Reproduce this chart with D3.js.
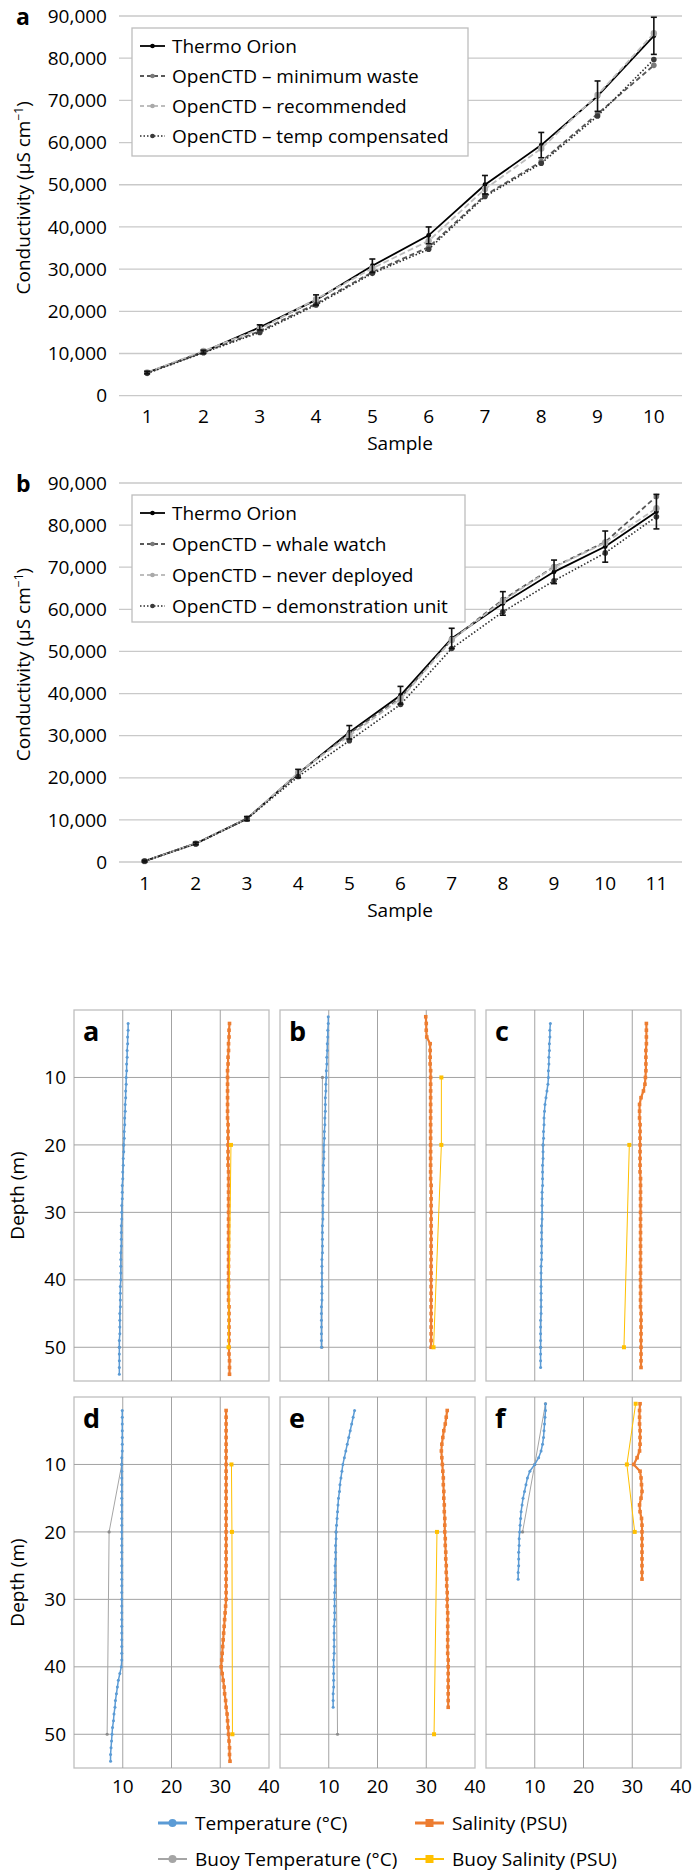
<!DOCTYPE html>
<html>
<head>
<meta charset="utf-8">
<script src="https://cdn.jsdelivr.net/npm/d3@7"></script>
<style>
  body { margin: 0; background: #fff; }
  svg { display: block; font-family: "Open Sans", sans-serif; }
</style>
</head>
<body>
<svg width="699" height="1871"></svg>
<script>
// ---- conductivity charts ----
const samplesA = ["1", "2", "3", "4", "5", "6", "7", "8", "9", "10"];
const thermoA = [5500, 10400, 16200, 22700, 30800, 38000, 50000, 59400, 71000, 85300];
const thermoErrA = [300, 400, 600, 1200, 1600, 2000, 2200, 3000, 3600, 4400];
const minWasteA = [5400, 10300, 15300, 21800, 29300, 35200, 47500, 55500, 66800, 78300];
const recommendedA = [5500, 10600, 15800, 22900, 30200, 36700, 49000, 58600, 71300, 85900];
const tempCompA = [5300, 10200, 15000, 21500, 29000, 34700, 47200, 55100, 66300, 79700];

const samplesB = ["1", "2", "3", "4", "5", "6", "7", "8", "9", "10", "11"];
const thermoB = [200, 4400, 10300, 21000, 30800, 39600, 53100, 61400, 68900, 74900, 83200];
const thermoErrB = [200, 300, 500, 1000, 1600, 2100, 2400, 2800, 2800, 3700, 4100];
const whaleWatchB = [200, 4400, 10300, 21000, 30500, 39000, 52800, 62300, 70100, 76000, 86800];
const neverDeployedB = [200, 4400, 10300, 21200, 30000, 38700, 52700, 62000, 70000, 75800, 84000];
const demoUnitB = [200, 4300, 10200, 20300, 28800, 37400, 50700, 59400, 66800, 73400, 82000];

const condTicks = [0, 10000, 20000, 30000, 40000, 50000, 60000, 70000, 80000, 90000];

// ---- depth profiles (depth m, value) ----
const depthA = [2,3,4,5,6,7,8,9,10,11,12,13,14,15,16,17,18,19,20,21,22,23,24,25,26,27,28,29,30,31,32,33,34,35,36,37,38,39,40,41,42,43,44,45,46,47,48,49,50,51,52,53,54];
const tempA = [11.1,11.1,11.0,11.0,10.9,10.9,10.8,10.8,10.7,10.7,10.6,10.6,10.5,10.5,10.4,10.4,10.3,10.3,10.2,10.2,10.1,10.1,10.0,10.0,9.9,9.9,9.9,9.8,9.8,9.8,9.7,9.7,9.7,9.7,9.6,9.6,9.6,9.6,9.6,9.5,9.5,9.5,9.5,9.4,9.4,9.4,9.4,9.3,9.3,9.3,9.3,9.3,9.3];
const salA = [31.9,31.8,31.8,31.7,31.7,31.6,31.6,31.5,31.5,31.5,31.5,31.5,31.5,31.5,31.5,31.6,31.6,31.6,31.6,31.6,31.6,31.6,31.7,31.7,31.7,31.7,31.7,31.7,31.7,31.7,31.7,31.7,31.7,31.7,31.7,31.7,31.7,31.7,31.7,31.7,31.7,31.7,31.8,31.8,31.8,31.8,31.8,31.8,31.8,31.8,31.9,31.9,31.9];
const buoyTDepthA = [20, 50], buoyTempA = [10.2, 9.3];
const buoySDepthA = [20, 50], buoySalA = [32.2, 31.7];

const depthB = [1,2,3,4,5,6,7,8,9,10,11,12,13,14,15,16,17,18,19,20,21,22,23,24,25,26,27,28,29,30,31,32,33,34,35,36,37,38,39,40,41,42,43,44,45,46,47,48,49,50];
const tempB = [9.9,9.9,9.8,9.8,9.7,9.7,9.6,9.6,9.5,9.5,9.4,9.4,9.3,9.3,9.3,9.2,9.2,9.1,9.1,9.0,9.0,9.0,8.9,8.9,8.9,8.9,8.8,8.8,8.8,8.8,8.8,8.7,8.7,8.7,8.7,8.7,8.6,8.6,8.6,8.6,8.6,8.6,8.6,8.5,8.5,8.5,8.5,8.5,8.5,8.5];
const salB = [29.9,30.0,30.0,30.1,30.8,30.8,30.8,30.8,30.9,30.9,30.9,30.9,30.9,30.9,30.9,30.9,30.9,30.9,30.9,30.9,30.9,30.9,30.9,30.9,30.9,31.0,31.0,31.0,31.0,31.0,31.0,31.0,31.0,31.0,31.0,31.0,31.0,31.0,31.0,31.0,31.0,31.0,31.0,31.0,31.0,31.0,31.0,31.0,31.0,31.0];
const buoyTDepthB = [10, 50], buoyTempB = [8.7, 8.6];
const buoySDepthB = [10, 20, 50], buoySalB = [33.1, 33.1, 31.5];

const depthC = [2,3,4,5,6,7,8,9,10,11,12,13,14,15,16,17,18,19,20,21,22,23,24,25,26,27,28,29,30,31,32,33,34,35,36,37,38,39,40,41,42,43,44,45,46,47,48,49,50,51,52,53];
const tempC = [13.2,13.1,13.1,13.0,13.0,12.9,12.9,12.8,12.8,12.7,12.5,12.3,12.1,12.0,11.9,11.9,11.8,11.8,11.7,11.7,11.7,11.6,11.6,11.6,11.6,11.5,11.5,11.5,11.5,11.5,11.4,11.4,11.4,11.4,11.4,11.4,11.3,11.3,11.3,11.3,11.3,11.3,11.3,11.3,11.2,11.2,11.2,11.2,11.2,11.2,11.2,11.2];
const salC = [32.9,32.9,32.9,32.9,32.8,32.8,32.8,32.8,32.7,32.6,32.3,31.8,31.5,31.5,31.5,31.6,31.6,31.6,31.6,31.6,31.6,31.6,31.6,31.7,31.7,31.7,31.7,31.7,31.7,31.7,31.7,31.7,31.7,31.7,31.7,31.7,31.7,31.7,31.7,31.7,31.7,31.7,31.7,31.8,31.8,31.8,31.8,31.8,31.8,31.8,31.8,31.8];
const buoyTDepthC = [20, 50], buoyTempC = [11.7, 11.2];
const buoySDepthC = [20, 50], buoySalC = [29.4, 28.3];

const depthD = [2,3,4,5,6,7,8,9,10,11,12,13,14,15,16,17,18,19,20,21,22,23,24,25,26,27,28,29,30,31,32,33,34,35,36,37,38,39,40,41,42,43,44,45,46,47,48,49,50,51,52,53,54];
const tempD = [9.9,9.9,9.9,9.9,9.9,9.9,9.9,9.8,9.8,9.8,9.8,9.8,9.8,9.8,9.8,9.8,9.8,9.8,9.8,9.8,9.8,9.8,9.8,9.8,9.8,9.8,9.8,9.8,9.8,9.8,9.8,9.8,9.8,9.8,9.8,9.8,9.8,9.8,9.7,9.4,9.1,8.9,8.7,8.5,8.4,8.2,8.1,7.9,7.8,7.7,7.6,7.5,7.5];
const salD = [31.2,31.2,31.2,31.2,31.2,31.2,31.2,31.2,31.2,31.2,31.2,31.2,31.2,31.2,31.2,31.2,31.2,31.2,31.2,31.2,31.2,31.2,31.2,31.2,31.2,31.2,31.2,31.2,31.2,31.1,31.0,30.9,30.8,30.7,30.6,30.5,30.4,30.3,30.2,30.4,30.6,30.8,30.9,31.1,31.2,31.4,31.5,31.6,31.7,31.8,31.9,31.9,32.0];
const buoyTDepthD = [10, 20, 50], buoyTempD = [9.8, 7.2, 6.8];
const buoySDepthD = [10, 20, 50], buoySalD = [32.3, 32.4, 32.5];

const depthE = [2,3,4,5,6,7,8,9,10,11,12,13,14,15,16,17,18,19,20,21,22,23,24,25,26,27,28,29,30,31,32,33,34,35,36,37,38,39,40,41,42,43,44,45,46];
const tempE = [15.3,15.0,14.7,14.4,14.1,13.8,13.5,13.2,12.9,12.7,12.5,12.3,12.2,12.0,11.9,11.8,11.7,11.6,11.5,11.5,11.4,11.4,11.4,11.3,11.3,11.3,11.3,11.2,11.2,11.2,11.2,11.2,11.1,11.1,11.1,11.1,11.1,11.0,11.0,11.0,11.0,11.0,10.9,10.9,10.9];
const salE = [34.3,34.1,33.9,33.6,33.4,33.2,33.1,33.2,33.3,33.4,33.5,33.5,33.6,33.6,33.7,33.7,33.8,33.8,33.8,33.9,33.9,34.0,34.0,34.1,34.1,34.2,34.2,34.3,34.3,34.3,34.4,34.4,34.4,34.4,34.4,34.4,34.4,34.5,34.5,34.5,34.5,34.5,34.5,34.5,34.5];
const buoyTDepthE = [20, 50], buoyTempE = [11.5, 11.8];
const buoySDepthE = [20, 50], buoySalE = [32.2, 31.6];

const depthF = [1,2,3,4,5,6,7,8,9,10,11,12,13,14,15,16,17,18,19,20,21,22,23,24,25,26,27];
const tempF = [12.2,12.2,12.1,12.0,11.9,11.8,11.6,11.3,10.8,10.0,9.0,8.5,8.2,7.9,7.6,7.4,7.2,7.1,7.0,6.9,6.8,6.8,6.7,6.7,6.7,6.6,6.6];
const salF = [31.6,31.5,31.5,31.5,31.6,31.6,31.6,31.5,31.0,30.3,31.6,31.8,31.9,32.0,31.8,31.5,31.6,31.9,32.0,32.0,32.0,32.0,32.0,32.0,32.0,32.0,32.0];
const buoyTDepthF = [1, 10, 20], buoyTempF = [12.2, 10.0, 7.5];
const buoySDepthF = [1, 10, 20], buoySalF = [30.7, 28.9, 30.5];

const depthTicks = [10, 20, 30, 40, 50];
const profileTicks = [10, 20, 30, 40];

const svg = d3.select("svg");
const fmt = d3.format(",");

// conductivity chart drawer
function drawConductivity(cfg) {
  const g = svg.append("g");
  const x = d3.scaleBand().domain(cfg.cats).range([119, 682]);
  const y = d3.scaleLinear().domain([0, 90000]).range([cfg.y0, cfg.y90]);
  const cx = i => x(cfg.cats[i]) + x.bandwidth() / 2;

  // gridlines
  g.append("g").selectAll("line").data(condTicks).join("line")
    .attr("x1", 119).attr("x2", 682)
    .attr("y1", d => y(d)).attr("y2", d => y(d))
    .attr("stroke", "#c9c9c9").attr("stroke-width", 1.3);

  g.append("g").selectAll("text").data(condTicks).join("text")
    .attr("x", 107).attr("y", d => y(d)).attr("dy", "0.35em")
    .attr("text-anchor", "end").attr("font-size", 19).attr("fill", "#000")
    .text(d => fmt(d));

  g.append("g").selectAll("text").data(cfg.cats).join("text")
    .attr("x", d => x(d) + x.bandwidth() / 2).attr("y", cfg.y0 + 21).attr("dy", "0.35em")
    .attr("text-anchor", "middle").attr("font-size", 19).attr("fill", "#000")
    .text(d => d);

  g.append("text").attr("x", 400).attr("y", cfg.y0 + 48).attr("dy", "0.35em")
    .attr("text-anchor", "middle").attr("font-size", 19).attr("fill", "#000").text("Sample");

  const yt = g.append("text")
    .attr("transform", `translate(30,${(cfg.y0 + cfg.y90) / 2 - 8}) rotate(-90)`)
    .attr("text-anchor", "middle").attr("font-size", 19).attr("fill", "#000");
  yt.append("tspan").text("Conductivity (µS cm");
  yt.append("tspan").attr("dy", -7).attr("font-size", 12).text("−1");
  yt.append("tspan").attr("dy", 7).text(")");

  g.append("text").attr("x", 16).attr("y", cfg.y90 + 9)
    .attr("font-size", 23).attr("font-weight", 700).text(cfg.letter);

  // series lines
  const line = d3.line().x((d, i) => cx(i)).y(d => y(d));
  cfg.series.forEach(s => {
    g.append("path").datum(s.values).attr("d", line)
      .attr("fill", "none").attr("stroke", s.stroke).attr("stroke-width", s.width)
      .attr("stroke-dasharray", s.dash);
    g.append("g").selectAll("circle").data(s.values).join("circle")
      .attr("cx", (d, i) => cx(i)).attr("cy", d => y(d)).attr("r", s.r).attr("fill", s.marker);
  });

  // error bars on the reference instrument
  const eb = g.append("g").attr("stroke", "#111").attr("stroke-width", 1.6);
  cfg.ref.forEach((v, i) => {
    const e = cfg.err[i];
    eb.append("line").attr("x1", cx(i)).attr("x2", cx(i)).attr("y1", y(v - e)).attr("y2", y(v + e));
    eb.append("line").attr("x1", cx(i) - 3).attr("x2", cx(i) + 3).attr("y1", y(v - e)).attr("y2", y(v - e));
    eb.append("line").attr("x1", cx(i) - 3).attr("x2", cx(i) + 3).attr("y1", y(v + e)).attr("y2", y(v + e));
  });

  // legend
  const lg = g.append("g");
  lg.append("rect").attr("x", cfg.legend[0]).attr("y", cfg.legend[1])
    .attr("width", cfg.legend[2]).attr("height", cfg.legend[3])
    .attr("fill", "#fff").attr("stroke", "#bdbdbd").attr("stroke-width", 1.3);
  cfg.series.forEach((s, i) => {
    const ly = cfg.legend[1] + 18 + i * cfg.legendStep;
    const lx = cfg.legend[0] + 8;
    lg.append("line").attr("x1", lx).attr("x2", lx + 25).attr("y1", ly).attr("y2", ly)
      .attr("stroke", s.stroke).attr("stroke-width", s.width).attr("stroke-dasharray", s.legendDash);
    lg.append("circle").attr("cx", lx + 12.5).attr("cy", ly).attr("r", 2.3).attr("fill", s.marker);
    lg.append("text").attr("x", lx + 32).attr("y", ly).attr("dy", "0.35em")
      .attr("font-size", 19).attr("fill", "#000").text(s.name);
  });
}

const styleRef = { stroke: "#000", width: 1.8, dash: null, legendDash: null, marker: "#000", r: 2.4 };
const styleDash = { stroke: "#595959", width: 1.8, dash: "5,3", legendDash: "4,3", marker: "#7a7a7a", r: 2.8 };
const styleLight = { stroke: "#bdbdbd", width: 1.8, dash: "6,3", legendDash: "4,3", marker: "#a9a9a9", r: 3.2 };
const styleDot = { stroke: "#2b2b2b", width: 1.6, dash: "1.5,2", legendDash: "1.5,2", marker: "#3a3a3a", r: 2.8 };

drawConductivity({
  letter: "a", cats: samplesA, y0: 395.7, y90: 16, ref: thermoA, err: thermoErrA,
  legend: [132, 28, 336, 128], legendStep: 30,
  series: [
    Object.assign({ name: "Thermo Orion", values: thermoA }, styleRef),
    Object.assign({ name: "OpenCTD – minimum waste", values: minWasteA }, styleDash),
    Object.assign({ name: "OpenCTD – recommended", values: recommendedA }, styleLight),
    Object.assign({ name: "OpenCTD – temp compensated", values: tempCompA }, styleDot)
  ]
});

drawConductivity({
  letter: "b", cats: samplesB, y0: 862, y90: 483, ref: thermoB, err: thermoErrB,
  legend: [132, 495, 333, 127], legendStep: 31,
  series: [
    Object.assign({ name: "Thermo Orion", values: thermoB }, styleRef),
    Object.assign({ name: "OpenCTD – whale watch", values: whaleWatchB }, styleDash),
    Object.assign({ name: "OpenCTD – never deployed", values: neverDeployedB }, styleLight),
    Object.assign({ name: "OpenCTD – demonstration unit", values: demoUnitB }, styleDot)
  ]
});

// ---- profile panels ----
const colX = [74, 280, 486];
const rowY = [1010, 1397];
const panelW = 195, panelH = 371;

const panels = [
  { letter: "a", col: 0, row: 0, depth: depthA, temp: tempA, sal: salA, btd: buoyTDepthA, bt: buoyTempA, bsd: buoySDepthA, bs: buoySalA },
  { letter: "b", col: 1, row: 0, depth: depthB, temp: tempB, sal: salB, btd: buoyTDepthB, bt: buoyTempB, bsd: buoySDepthB, bs: buoySalB },
  { letter: "c", col: 2, row: 0, depth: depthC, temp: tempC, sal: salC, btd: buoyTDepthC, bt: buoyTempC, bsd: buoySDepthC, bs: buoySalC },
  { letter: "d", col: 0, row: 1, depth: depthD, temp: tempD, sal: salD, btd: buoyTDepthD, bt: buoyTempD, bsd: buoySDepthD, bs: buoySalD },
  { letter: "e", col: 1, row: 1, depth: depthE, temp: tempE, sal: salE, btd: buoyTDepthE, bt: buoyTempE, bsd: buoySDepthE, bs: buoySalE },
  { letter: "f", col: 2, row: 1, depth: depthF, temp: tempF, sal: salF, btd: buoyTDepthF, bt: buoyTempF, bsd: buoySDepthF, bs: buoySalF }
];

const TEMP = "#5b9bd5", SAL = "#ed7d31", BTEMP = "#a5a5a5", BSAL = "#ffc000";

panels.forEach(p => {
  const left = colX[p.col], top = rowY[p.row];
  const x = d3.scaleLinear().domain([0, 40]).range([left, left + panelW]);
  const y = d3.scaleLinear().domain([0, 55]).range([top, top + panelH]);
  const g = svg.append("g");

  g.append("rect").attr("x", left).attr("y", top).attr("width", panelW).attr("height", panelH)
    .attr("fill", "#fff").attr("stroke", "#bfbfbf").attr("stroke-width", 1.3);
  g.append("g").selectAll("line").data([10, 20, 30]).join("line")
    .attr("x1", d => x(d)).attr("x2", d => x(d)).attr("y1", top).attr("y2", top + panelH)
    .attr("stroke", "#a3a3a3").attr("stroke-width", 1);
  g.append("g").selectAll("line").data(depthTicks).join("line")
    .attr("x1", left).attr("x2", left + panelW).attr("y1", d => y(d)).attr("y2", d => y(d))
    .attr("stroke", "#a3a3a3").attr("stroke-width", 1);

  if (p.col === 0) {
    g.append("g").selectAll("text").data(depthTicks).join("text")
      .attr("x", 66).attr("y", d => y(d)).attr("dy", "0.35em").attr("text-anchor", "end")
      .attr("font-size", 19).attr("fill", "#000").text(d => d);
    g.append("text").attr("transform", `translate(24,${top + panelH / 2}) rotate(-90)`)
      .attr("text-anchor", "middle").attr("font-size", 19).attr("fill", "#000").text("Depth (m)");
  }
  if (p.row === 1) {
    g.append("g").selectAll("text").data(profileTicks).join("text")
      .attr("x", d => x(d)).attr("y", top + panelH + 18).attr("dy", "0.35em").attr("text-anchor", "middle")
      .attr("font-size", 19).attr("fill", "#000").text(d => d);
  }

  g.append("text").attr("x", left + 9).attr("y", top + 31)
    .attr("font-size", 27).attr("font-weight", 700).text(p.letter);

  const pts = (vals, depths) => vals.map((v, i) => [x(v), y(depths[i])]);
  const line = d3.line();

  const buoyT = pts(p.bt, p.btd), buoyS = pts(p.bs, p.bsd);
  const tempP = pts(p.temp, p.depth), salP = pts(p.sal, p.depth);

  g.append("path").attr("d", line(buoyT)).attr("fill", "none").attr("stroke", BTEMP).attr("stroke-width", 1);
  g.append("g").selectAll("circle").data(buoyT).join("circle")
    .attr("cx", d => d[0]).attr("cy", d => d[1]).attr("r", 1.6).attr("fill", "#8c8c8c");

  g.append("path").attr("d", line(tempP)).attr("fill", "none").attr("stroke", TEMP).attr("stroke-width", 1.5);
  g.append("g").selectAll("circle").data(tempP).join("circle")
    .attr("cx", d => d[0]).attr("cy", d => d[1]).attr("r", 1.5).attr("fill", TEMP);

  g.append("path").attr("d", line(salP)).attr("fill", "none").attr("stroke", SAL).attr("stroke-width", 2.2);
  g.append("g").selectAll("rect").data(salP).join("rect")
    .attr("x", d => d[0] - 1.8).attr("y", d => d[1] - 1.8).attr("width", 3.6).attr("height", 3.6).attr("fill", SAL);

  g.append("path").attr("d", line(buoyS)).attr("fill", "none").attr("stroke", BSAL).attr("stroke-width", 1);
  g.append("g").selectAll("rect").data(buoyS).join("rect")
    .attr("x", d => d[0] - 2).attr("y", d => d[1] - 2).attr("width", 4).attr("height", 4).attr("fill", BSAL);
});

// bottom legend
const legendItems = [
  { name: "Temperature (°C)", color: TEMP, shape: "circle", x: 158, y: 1823, w: 3 },
  { name: "Salinity (PSU)", color: SAL, shape: "square", x: 415, y: 1823, w: 3 },
  { name: "Buoy Temperature (°C)", color: BTEMP, shape: "circle", x: 158, y: 1859, w: 2 },
  { name: "Buoy Salinity (PSU)", color: BSAL, shape: "square", x: 415, y: 1859, w: 2 }
];
const bl = svg.append("g");
legendItems.forEach(it => {
  bl.append("line").attr("x1", it.x).attr("x2", it.x + 29).attr("y1", it.y).attr("y2", it.y)
    .attr("stroke", it.color).attr("stroke-width", it.w);
  if (it.shape === "circle") {
    bl.append("circle").attr("cx", it.x + 14.5).attr("cy", it.y).attr("r", 4).attr("fill", it.color);
  } else {
    bl.append("rect").attr("x", it.x + 10.5).attr("y", it.y - 4).attr("width", 8).attr("height", 8).attr("fill", it.color);
  }
  bl.append("text").attr("x", it.x + 37).attr("y", it.y).attr("dy", "0.35em")
    .attr("font-size", 19).attr("fill", "#000").text(it.name);
});
</script>
</body>
</html>
